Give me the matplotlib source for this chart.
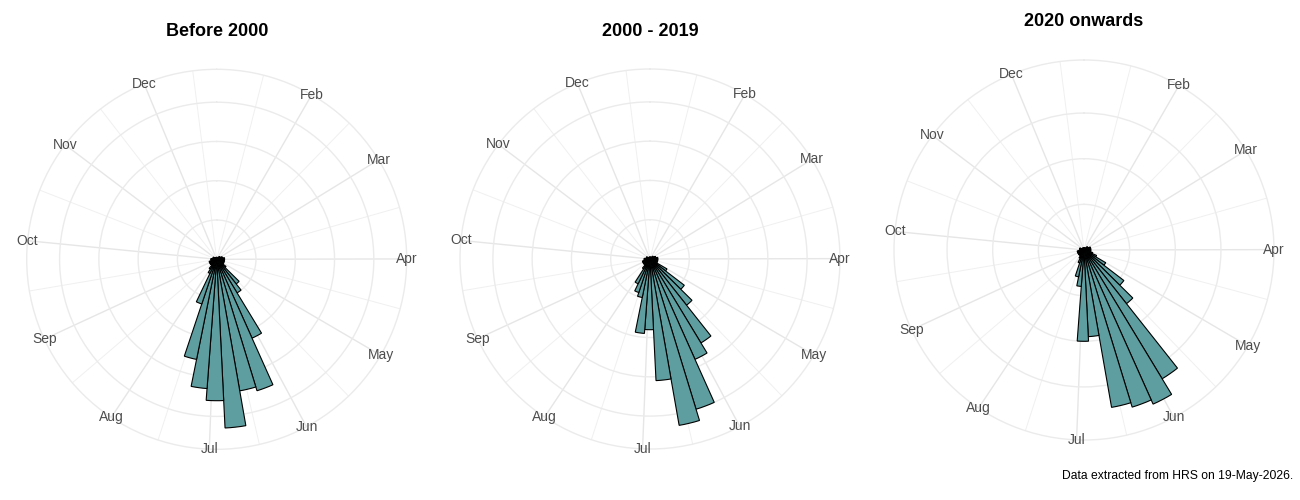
import numpy as np
import matplotlib.pyplot as plt

plt.rcParams['font.family'] = ['Liberation Sans', 'DejaVu Sans']

# Weekly share of events, 51 bins of 7 days (bin k covers day 1+7k .. 8+7k)
week_index = list(range(51))

before_2000 = [0.5, 0.5, 0.5, 0.5, 0.5, 0.5, 1, 1, 1, 1.5, 1.5,
               2, 2, 2, 2, 2, 2, 2, 3, 8, 10, 22, 35, 34, 43, 36,
               33, 26, 12, 4, 3, 2, 2, 2, 2, 2, 1.5, 1.5, 1.5, 1, 1,
               1, 1, 0.5, 0.5, 0.5, 0.5, 0.5, 0.5, 0.5, 0.5]

y2000_2019 = [0.5, 0.5, 0.5, 0.5, 0.5, 0.5, 1, 1, 1, 1.5, 1.5,
              2, 2, 2, 2, 2, 2, 5, 11, 15, 25, 28, 40, 43, 31, 18,
              19, 10, 9, 7, 3, 2, 2, 2, 2, 2, 1.5, 1.5, 1.5, 1, 1,
              1, 1, 0.5, 0.5, 0.5, 0.5, 0.5, 0.5, 0.5, 0.5]

since_2020 = [0.5, 0.5, 0.5, 0.5, 0.5, 0.5, 1, 1, 1, 1.5, 1.5,
              1.5, 1.5, 1.5, 1.5, 2, 3, 5.5, 11, 15, 33, 37, 36, 35, 19, 20,
              8, 6, 3, 2, 1.5, 1.5, 1.5, 1.5, 1.5, 1.5, 1.5, 1, 1, 1, 1,
              1, 0.5, 0.5, 0.5, 0.5, 0.5, 0.5, 0.5, 0.5, 0.5]

titles = ['Before 2000', '2000 - 2019', '2020 onwards']
month_labels = ['Feb', 'Mar', 'Apr', 'May', 'Jun', 'Jul', 'Aug', 'Sep', 'Oct', 'Nov', 'Dec']
month_start_day = [31, 59, 90, 120, 151, 181, 212, 243, 273, 304, 334]
caption = 'Data extracted from HRS on 19-May-2026.'

# theta axis: day of year mapped onto the circle
X_MIN = 1.44
X_SPAN = 354.7
BIN_DAYS = 7

FILL = '#5F9EA0'
GRID = '#EBEBEB'


def day_to_theta(day):
    return (np.asarray(day, dtype=float) - X_MIN) / X_SPAN * 2 * np.pi


def rose(ax, values):
    centres = 1 + BIN_DAYS / 2 + BIN_DAYS * np.array(week_index)
    ax.bar(day_to_theta(centres), values, width=BIN_DAYS / X_SPAN * 2 * np.pi,
           color=FILL, edgecolor='black', linewidth=0.8, zorder=3)
    ax.set_theta_zero_location('N')
    ax.set_theta_direction(-1)
    top = max(values) * 1.125
    ax.set_ylim(0, top)
    ax.set_yticks(np.arange(10, max(values) + 0.01, 10))
    ax.set_yticklabels([])
    # major breaks at month starts, minor half way between
    ax.set_xticks(day_to_theta(month_start_day))
    ax.set_xticklabels([])
    ext = [month_start_day[0] - 31] + month_start_day + [month_start_day[-1] + 30]
    mids = [(a + b) / 2 for a, b in zip(ext[:-1], ext[1:])]
    ax.set_xticks(day_to_theta(mids), minor=True)
    ax.tick_params(which='both', length=0)
    ax.yaxis.grid(True, color=GRID, linewidth=1.0)
    ax.xaxis.grid(True, which='major', color='#E6E6E6', linewidth=1.0)
    ax.xaxis.grid(True, which='minor', color='#F0F0F0', linewidth=0.7)
    ax.spines['polar'].set_color(GRID)
    ax.spines['polar'].set_linewidth(1.0)
    for lab, d in zip(month_labels, month_start_day):
        ax.text(day_to_theta(d), top, lab, ha='center', va='center',
                fontsize=10, color='#4D4D4D', clip_on=False)


W, H = 1300, 500
fig = plt.figure(figsize=(13, 5), dpi=100)
centres_px = [(216.7, 259.3), (650, 259), (1084, 250)]
title_y = [31, 31, 22]
R = 190

for values, title, (cx, cy), ty in zip([before_2000, y2000_2019, since_2020],
                                       titles, centres_px, title_y):
    ax = fig.add_axes([(cx - R) / W, (H - cy - R) / H, 2 * R / W, 2 * R / H],
                      projection='polar')
    rose(ax, values)
    fig.text(cx / W, 1 - ty / H, title, ha='center', va='center',
             fontsize=13, fontweight='bold', color='black')

fig.text(1293 / W, 1 - 476 / H, caption, ha='right', va='center', fontsize=8.7)

fig.savefig('out.png', dpi=100)
